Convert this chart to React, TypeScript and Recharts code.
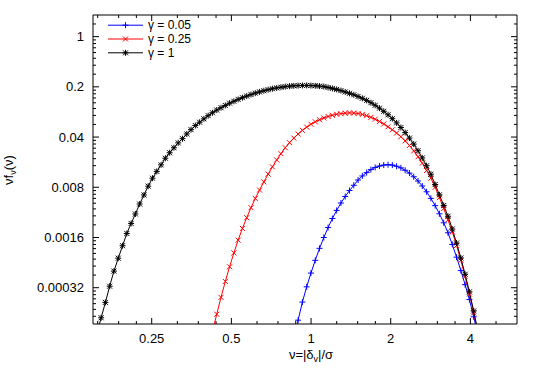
import React from 'react'
import { LineChart, Line, XAxis, YAxis, Legend, ReferenceArea } from 'recharts'

// ν grid shared by the three curves (log-spaced)
const nu = [
  0.1551, 0.161, 0.1671, 0.1734, 0.18, 0.1869, 0.194, 0.2013, 0.209, 0.2169,
  0.2251, 0.2337, 0.2425, 0.2517, 0.2613, 0.2712, 0.2815, 0.2922, 0.3033, 0.3148,
  0.3268, 0.3392, 0.352, 0.3654, 0.3793, 0.3937, 0.4086, 0.4241, 0.4402, 0.4569,
  0.4743, 0.4923, 0.511, 0.5303, 0.5505, 0.5714, 0.5931, 0.6156, 0.6389, 0.6632,
  0.6884, 0.7145, 0.7416, 0.7698, 0.799, 0.8293, 0.8608, 0.8935, 0.9274, 0.9626,
  0.9991, 1.0371, 1.0764, 1.1173, 1.1597, 1.2037, 1.2494, 1.2969, 1.3461, 1.3972,
  1.4502, 1.5053, 1.5624, 1.6217, 1.6833, 1.7472, 1.8135, 1.8823, 1.9538, 2.028,
  2.1049, 2.1849, 2.2678, 2.3539, 2.4432, 2.536, 2.6322, 2.7322, 2.8359, 2.9435,
  3.0552, 3.1712, 3.2916, 3.4165, 3.5462, 3.6808, 3.8206, 3.9656, 4.1161, 4.2724,
]

// γ = 1, starts at nu[0]
const gamma1 = [
  7.34e-5, 1.22e-4, 2.0e-4, 3.36e-4, 5.45e-4, 8.24e-4, 1.23e-3, 1.82e-3, 2.51e-3, 3.4e-3,
  4.68e-3, 6.25e-3, 8.29e-3, 0.0107, 0.0133, 0.0164, 0.0203, 0.0242, 0.0284, 0.0332,
  0.038, 0.0442, 0.0507, 0.0578, 0.0643, 0.0717, 0.0794, 0.0872, 0.0951, 0.1024,
  0.1101, 0.1186, 0.1259, 0.1337, 0.1413, 0.1489, 0.1563, 0.1634, 0.1702, 0.1767,
  0.1827, 0.1883, 0.1932, 0.1976, 0.2014, 0.2044, 0.2067, 0.2083, 0.2091, 0.2091,
  0.2084, 0.2069, 0.2047, 0.2017, 0.1959, 0.1901, 0.1842, 0.1773, 0.17, 0.1624,
  0.155, 0.147, 0.1385, 0.1295, 0.1202, 0.1107, 0.101, 0.0913, 0.0816, 0.0721,
  0.063, 0.0543, 0.0462, 0.0387, 0.0319, 0.0258, 0.0205, 0.01595, 0.01214, 0.00874,
  0.00628, 0.00447, 0.00316, 0.0021, 0.00134, 8.3e-4, 4.92e-4, 2.8e-4, 1.52e-4, 7.84e-5,
]

// γ = 0.25, starts at nu[27]
const gamma025Start = 27
const gamma025 = [
  7.81e-5, 1.37e-4, 2.35e-4, 3.91e-4, 6.26e-4, 9.76e-4, 1.47e-3, 2.14e-3, 3.02e-3, 4.16e-3, 5.59e-3, 7.32e-3, 9.51e-3,
  0.0122, 0.0154, 0.0192, 0.0235, 0.0284, 0.0334, 0.0387, 0.0441, 0.0496, 0.0551,
  0.0603, 0.0652, 0.0697, 0.0738, 0.0774, 0.0805, 0.0829, 0.0848, 0.0861, 0.0868,
  0.0864, 0.085, 0.0827, 0.0793, 0.0753, 0.0708, 0.0659, 0.0608, 0.0556, 0.0505,
  0.0455, 0.0404, 0.0354, 0.0305, 0.0257, 0.0213, 0.0173, 0.0137, 0.0107, 0.00799,
  0.00574, 0.00405, 0.00282, 0.00191, 0.00124, 7.69e-4, 4.57e-4, 2.61e-4, 1.43e-4, 7.41e-5,
]

// γ = 0.05, starts at nu[46]
const gamma005Start = 46
const gamma005 = [
  5.89e-5, 1.13e-4, 2.02e-4, 3.29e-4,
  5.11e-4, 7.7e-4, 1.13e-3, 1.6e-3, 2.2e-3, 2.94e-3, 3.81e-3, 4.83e-3, 5.95e-3, 7.2e-3,
  8.53e-3, 0.0101, 0.0115, 0.0128, 0.0141, 0.0151, 0.0158, 0.0163, 0.0165, 0.0163,
  0.0157, 0.0149, 0.0138, 0.0126, 0.0112, 0.00978, 0.00833, 0.00692, 0.00561, 0.00444,
  0.00342, 0.00256, 0.00186, 0.00128, 8.52e-4, 5.54e-4, 3.53e-4, 2.19e-4, 1.26e-4, 6.92e-5,
]

const xMajorTicks = [0.25, 0.5, 1, 2, 4]
const xMinorTicks = [0.15625, 0.1875, 0.21875, 0.3125, 0.375, 0.4375, 0.625, 0.75, 0.875, 1.25, 1.5, 1.75, 2.5, 3, 3.5, 5]
const yMajorTicks = [1, 0.2, 0.04, 0.008, 0.0016, 0.00032]
const yTickLabels = ['1', '0.2', '0.04', '0.008', '0.0016', '0.00032']
const yMinorTicks = [
  1.5,
  0.3, 0.4, 0.5, 0.6, 0.7, 0.8, 0.9,
  0.06, 0.08, 0.1, 0.12, 0.14, 0.16, 0.18,
  0.012, 0.016, 0.02, 0.024, 0.028, 0.032, 0.036,
  0.0024, 0.0032, 0.004, 0.0048, 0.0056, 0.0064, 0.0072,
  0.00048, 0.00064, 0.0008, 0.00096, 0.00112, 0.00128, 0.00144,
  0.000128, 0.00016, 0.000192, 0.000224, 0.000256, 0.000288,
]

const W = 540
const H = 378
const PLOT_TOP = 15
const PLOT_BOTTOM = 324
const PLOT_LEFT = 93
const PLOT_RIGHT = 517
const FONT = '"Liberation Sans", Arial, sans-serif'

const rows = (vals: number[], start: number) => vals.map((v, i) => ({ nu: nu[start + i], v }))

type Shape = 'plus' | 'cross' | 'star'

const markerPath = (shape: Shape, cx: number, cy: number) => {
  const p = 3
  const c = 2.5
  const plus = `M${cx - p},${cy}H${cx + p}M${cx},${cy - p}V${cy + p}`
  const cross = `M${cx - c},${cy - c}L${cx + c},${cy + c}M${cx - c},${cy + c}L${cx + c},${cy - c}`
  if (shape === 'plus') return plus
  if (shape === 'cross') return cross
  return plus + cross
}

const series = [
  { name: 'γ = 0.05', color: '#0000ff', shape: 'plus' as Shape, data: rows(gamma005, gamma005Start) },
  { name: 'γ = 0.25', color: '#ff0000', shape: 'cross' as Shape, data: rows(gamma025, gamma025Start) },
  { name: 'γ = 1', color: '#000000', shape: 'star' as Shape, data: rows(gamma1, 0) },
]

const makeDot = (shape: Shape, color: string) => (props: any) => {
  const { cx, cy, index } = props
  if (cx == null || cy == null) return <g key={`d${index}`} />
  return <path key={`d${index}`} d={markerPath(shape, cx, cy)} stroke={color} strokeWidth={1} fill="none" />
}

// ticks point inward on both sides of the box, like gnuplot
const XTick = (props: any) => {
  const { x, payload } = props
  const i = xMajorTicks.indexOf(payload.value)
  const len = i >= 0 ? 6 : 3
  return (
    <g>
      <line x1={x} x2={x} y1={PLOT_BOTTOM} y2={PLOT_BOTTOM - len} stroke="#000" />
      <line x1={x} x2={x} y1={PLOT_TOP} y2={PLOT_TOP + len} stroke="#000" />
      {i >= 0 && (
        <text x={x} y={PLOT_BOTTOM + 19} textAnchor="middle" fontFamily={FONT} fontSize={13} fill="#000">
          {String(xMajorTicks[i])}
        </text>
      )}
    </g>
  )
}

const YTick = (props: any) => {
  const { y, payload } = props
  const i = yMajorTicks.indexOf(payload.value)
  const len = i >= 0 ? 6 : 3
  return (
    <g>
      <line x1={PLOT_LEFT} x2={PLOT_LEFT + len} y1={y} y2={y} stroke="#000" />
      <line x1={PLOT_RIGHT} x2={PLOT_RIGHT - len} y1={y} y2={y} stroke="#000" />
      {i >= 0 && (
        <text x={PLOT_LEFT - 9} y={y + 4.5} textAnchor="end" fontFamily={FONT} fontSize={13} fill="#000">
          {yTickLabels[i]}
        </text>
      )}
    </g>
  )
}

const renderLegend = () => (
  <svg width={220} height={66} style={{ display: 'block' }}>
    {series.map((s, i) => {
      const y = 25.2 + 13.8 * i
      return (
        <g key={s.name}>
          <line x1={108} x2={143} y1={y} y2={y} stroke={s.color} strokeWidth={1} />
          <path d={markerPath(s.shape, 125.5, y)} stroke={s.color} fill="none" />
          <text x={148} y={y + 4.2} fontFamily={FONT} fontSize={12} fill="#000">
            {s.name}
          </text>
        </g>
      )
    })}
  </svg>
)

const renderXLabel = () => (
  <text x={311} y={359} textAnchor="middle" fontFamily={FONT} fontSize={13} fill="#000">
    ν=|δ<tspan dy={3} fontSize={9}>v</tspan>
    <tspan dy={-3}>|/σ</tspan>
  </text>
)

const renderYLabel = () => (
  <text x={13} y={170} transform="rotate(-90, 13, 170)" textAnchor="middle" fontFamily={FONT} fontSize={13} fill="#000">
    νf<tspan dy={3} fontSize={9}>ν</tspan>
    <tspan dy={-3}>(ν)</tspan>
  </text>
)

export default function App() {
  return (
    <div style={{ position: 'absolute', left: 0, top: 0, width: W, height: H, background: '#fff' }}>
      <LineChart
        width={W}
        height={H}
        margin={{ top: PLOT_TOP, right: W - PLOT_RIGHT, bottom: H - PLOT_BOTTOM - 1, left: PLOT_LEFT - 1 }}
      >
        <XAxis
          dataKey="nu"
          type="number"
          scale="log"
          domain={[0.15, 6]}
          allowDataOverflow
          ticks={[...xMajorTicks, ...xMinorTicks]}
          interval={0}
          tick={<XTick />}
          tickLine={false}
          axisLine={false}
          height={1}
          label={renderXLabel}
        />
        <YAxis
          type="number"
          scale="log"
          domain={[1e-4, 2]}
          allowDataOverflow
          ticks={[...yMajorTicks, ...yMinorTicks]}
          interval={0}
          tick={<YTick />}
          tickLine={false}
          axisLine={false}
          width={1}
          label={renderYLabel}
        />
        <ReferenceArea x1={0.15} x2={6} y1={1e-4} y2={2} fill="none" stroke="#000" strokeWidth={1} />
        <Legend
          content={renderLegend}
          layout="horizontal"
          verticalAlign="middle"
          align="center"
          wrapperStyle={{ left: 0, top: 0, width: 220, height: 66 }}
        />
        {series.map((s) => (
          <Line
            key={s.name}
            data={s.data}
            dataKey="v"
            name={s.name}
            type="linear"
            stroke={s.color}
            strokeWidth={1}
            dot={makeDot(s.shape, s.color)}
            activeDot={false}
            isAnimationActive={false}
          />
        ))}
      </LineChart>
    </div>
  )
}
